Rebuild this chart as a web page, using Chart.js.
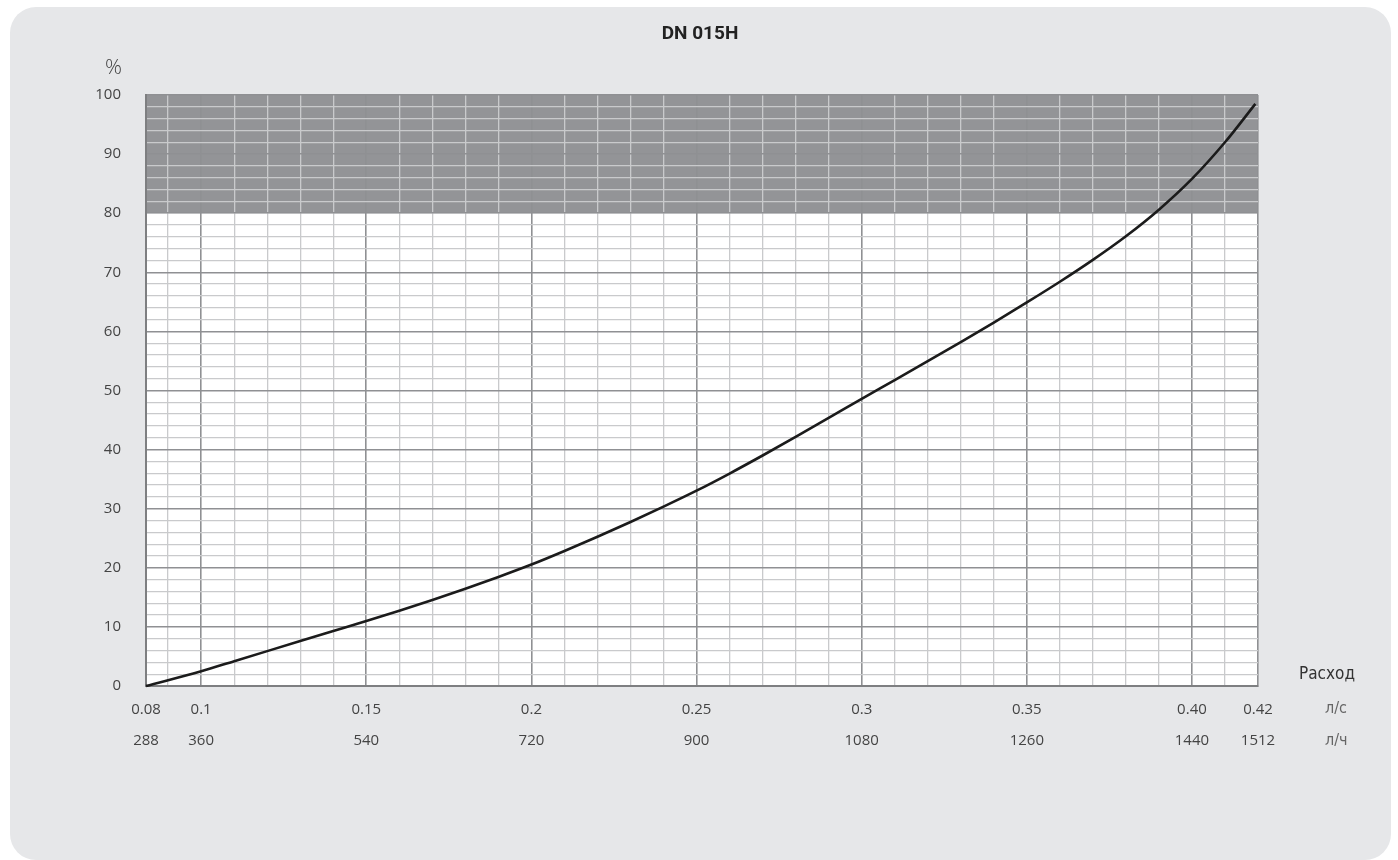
<!DOCTYPE html>
<html>
<head>
<meta charset="utf-8">
<script src="https://cdn.jsdelivr.net/npm/chart.js@4.4.1/dist/chart.umd.min.js"></script>
<style>
  html, body { margin: 0; padding: 0; background: #ffffff; }
  #card { position: absolute; left: 10px; top: 7px; width: 1381px; height: 853px; background: #e6e7e9; border-radius: 26px; }
  #wrap { position: absolute; left: 0; top: 0; width: 1398px; height: 860px; }
</style>
</head>
<body>
<div id="card"></div>
<div id="wrap"><canvas id="c" width="1398" height="860"></canvas></div>
<script>
// ---- data ----
const flowLs = [0.0833, 0.10, 0.11, 0.12, 0.13, 0.14, 0.15, 0.16, 0.17, 0.18, 0.19, 0.20, 0.21, 0.22, 0.23, 0.24, 0.25, 0.26, 0.27, 0.28, 0.29, 0.30, 0.31, 0.32, 0.33, 0.34, 0.35, 0.36, 0.37, 0.38, 0.39, 0.40, 0.41, 0.4192];
const percent = [0, 2.5, 4.2, 5.9, 7.6, 9.3, 11.0, 12.75, 14.55, 16.45, 18.45, 20.55, 22.85, 25.25, 27.75, 30.35, 33.05, 35.95, 39.0, 42.15, 45.35, 48.6, 51.75, 54.95, 58.2, 61.5, 64.9, 68.4, 72.1, 76.1, 80.6, 85.8, 92.0, 98.5];

const xTickValues = [0.0833, 0.1, 0.15, 0.2, 0.25, 0.3, 0.35, 0.40, 0.42];
const xLabelsLs = ['0.08', '0.1', '0.15', '0.2', '0.25', '0.3', '0.35', '0.40', '0.42'];
const xLabelsLh = ['288', '360', '540', '720', '900', '1080', '1260', '1440', '1512'];
const yTickValues = [0, 10, 20, 30, 40, 50, 60, 70, 80, 90, 100];
const yTickLabels = ['0', '10', '20', '30', '40', '50', '60', '70', '80', '90', '100'];
const bandRange = [80, 100];

const titleText = 'DN 015H';
const yUnit = '%';
const xTitle = 'Расход';
const xUnitLs = 'л/с';
const xUnitLh = 'л/ч';

// ---- styling ----
const NUM_FONT = "'Open Sans', 'Noto Sans', sans-serif";
const COND_FONT = "'Liberation Sans Narrow', 'DejaVu Sans Condensed', 'Roboto', sans-serif";
const TITLE_FONT = "'Roboto', 'Liberation Sans', sans-serif";
const MAJOR = '#8f9093';
const MINOR = '#c9cacc';
const AXIS = '#7e7f81';

function labelIndex(v) {
  for (let i = 0; i < xTickValues.length; i++) if (Math.abs(xTickValues[i] - v) < 1e-6) return i;
  return -1;
}

const backgroundPlugin = {
  id: 'bg',
  beforeDraw(chart) {
    const { ctx, chartArea: a, scales } = chart;
    ctx.save();
    ctx.fillStyle = '#ffffff';
    ctx.fillRect(a.left, a.top, a.right - a.left, a.bottom - a.top);
    const yTop = scales.y.getPixelForValue(bandRange[1]);
    const yBot = scales.y.getPixelForValue(bandRange[0]);
    ctx.fillStyle = '#939497';
    ctx.fillRect(a.left, yTop, a.right - a.left, yBot - yTop);
    ctx.restore();
  }
};

const extraText = {
  id: 'extraText',
  afterDraw(chart) {
    const { ctx, chartArea: a } = chart;
    ctx.save();
    // title, centred on the whole card
    ctx.fillStyle = '#222';
    ctx.font = 'bold 19px ' + TITLE_FONT;
    ctx.textAlign = 'center';
    ctx.textBaseline = 'middle';
    ctx.fillText(titleText, chart.width / 2 + 1, 34);

    ctx.fillStyle = '#444';
    ctx.font = '300 21px ' + NUM_FONT;
    ctx.textAlign = 'right';
    ctx.fillText(yUnit, a.left - 24, a.top - 27);

    ctx.textAlign = 'left';
    ctx.fillStyle = '#333';
    ctx.font = '17px ' + COND_FONT;
    ctx.fillText(xTitle, a.right + 41, a.bottom - 11);
    ctx.fillStyle = '#666';
    ctx.font = '16px ' + COND_FONT;
    ctx.fillText(xUnitLs, a.right + 67, a.bottom + 23);
    ctx.fillText(xUnitLh, a.right + 67, a.bottom + 55);
    ctx.restore();
  }
};

new Chart(document.getElementById('c'), {
  type: 'line',
  data: {
    datasets: [{
      data: flowLs.map((x, i) => ({ x: x, y: percent[i] })),
      borderColor: '#1b1b1b',
      borderWidth: 2.6,
      pointRadius: 0,
      cubicInterpolationMode: 'monotone',
      fill: false,
      clip: false
    }]
  },
  options: {
    responsive: false,
    animation: false,
    devicePixelRatio: 1,
    layout: { padding: { left: 0, right: 140, top: 95, bottom: 0 } },
    plugins: {
      legend: { display: false },
      tooltip: { enabled: false },
      title: { display: false }
    },
    scales: {
      x: {
        type: 'linear',
        min: xTickValues[0],
        max: xTickValues[xTickValues.length - 1],
        afterBuildTicks(scale) {
          const t = [{ value: xTickValues[0] }];
          for (let i = 9; i <= 42; i++) t.push({ value: i / 100 });
          scale.ticks = t;
        },
        afterFit(scale) { scale.height = 174; },
        grid: {
          drawTicks: false,
          color: (c) => labelIndex(c.tick.value) >= 0 ? MAJOR : MINOR,
          lineWidth: (c) => labelIndex(c.tick.value) >= 0 ? 1.6 : 1.3
        },
        border: { color: AXIS, width: 2 },
        ticks: {
          autoSkip: false,
          maxRotation: 0,
          minRotation: 0,
          padding: 8.5,
          color: '#444',
          font: { family: NUM_FONT, size: 15, lineHeight: 2.0667 },
          callback: (v) => {
            const i = labelIndex(v);
            return i >= 0 ? [xLabelsLs[i], xLabelsLh[i]] : '';
          }
        }
      },
      y: {
        type: 'linear',
        min: 0,
        max: 100,
        afterBuildTicks(scale) {
          const t = [];
          for (let v = 0; v <= 100; v += 2) t.push({ value: v });
          scale.ticks = t;
        },
        afterFit(scale) { scale.width = 146; },
        grid: {
          drawTicks: false,
          color: (c) => c.tick.value % 10 === 0 ? MAJOR : MINOR,
          lineWidth: (c) => c.tick.value % 10 === 0 ? 1.6 : 1.3
        },
        border: { color: AXIS, width: 2 },
        ticks: {
          autoSkip: false,
          padding: 25,
          color: '#444',
          font: { family: NUM_FONT, size: 15 },
          callback: (v) => {
            const i = yTickValues.indexOf(v);
            return i >= 0 ? yTickLabels[i] : '';
          }
        }
      }
    }
  },
  plugins: [backgroundPlugin, extraText]
});
</script>
</body>
</html>
